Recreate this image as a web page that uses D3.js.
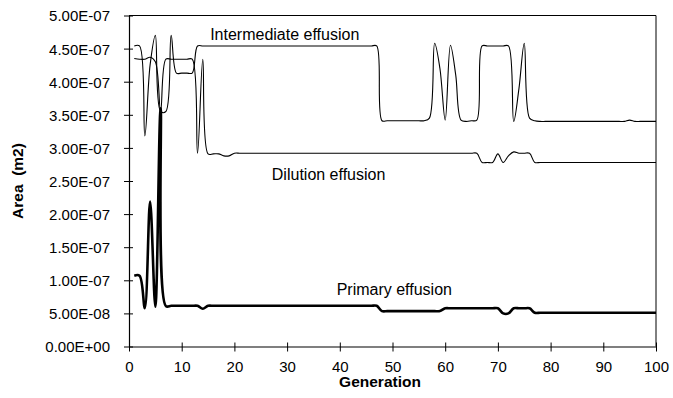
<!DOCTYPE html>
<html>
<head>
<meta charset="utf-8">
<script src="https://cdn.jsdelivr.net/npm/d3@7"></script>
<style>
  body { margin: 0; background: #fff; }
  svg text { font-family: Arial, "Liberation Sans", sans-serif; fill: #000; }
</style>
</head>
<body>
<svg id="chart" width="673" height="398"></svg>
<script>
// values are in units of 1e-7 m2, one per generation (1..100)
const generations = d3.range(1, 101);

const intermediate = [
  4.54, 4.54, 3.18, 4.25, 4.70, 3.55, 3.55, 4.70, 4.13, 4.13,
  4.13, 4.13, 4.54, 4.54, 4.54, 4.54, 4.54, 4.54, 4.54, 4.54,
  4.54, 4.54, 4.54, 4.54, 4.54, 4.54, 4.54, 4.54, 4.54, 4.54,
  4.54, 4.54, 4.54, 4.54, 4.54, 4.54, 4.54, 4.54, 4.54, 4.54,
  4.54, 4.54, 4.54, 4.54, 4.54, 4.54, 4.54, 3.41, 3.41, 3.41,
  3.41, 3.41, 3.41, 3.41, 3.41, 3.41, 3.45, 4.58, 4.20, 3.42,
  4.55, 4.10, 3.42, 3.40, 3.41, 3.42, 4.54, 4.54, 4.54, 4.54,
  4.54, 4.54, 3.40, 3.90, 4.58, 3.45, 3.41, 3.40, 3.40, 3.40,
  3.40, 3.40, 3.40, 3.40, 3.40, 3.40, 3.40, 3.40, 3.40, 3.40,
  3.40, 3.40, 3.40, 3.40, 3.42, 3.40, 3.40, 3.40, 3.40, 3.40
];

const dilution = [
  4.35, 4.34, 4.34, 4.37, 4.30, 3.55, 4.34, 4.34, 4.34, 4.34,
  4.34, 4.34, 2.92, 4.34, 2.91, 2.91, 2.91, 2.88, 2.88, 2.92,
  2.92, 2.92, 2.92, 2.92, 2.92, 2.92, 2.92, 2.92, 2.92, 2.92,
  2.92, 2.92, 2.92, 2.92, 2.92, 2.92, 2.92, 2.92, 2.92, 2.92,
  2.92, 2.92, 2.92, 2.92, 2.92, 2.92, 2.92, 2.92, 2.92, 2.92,
  2.92, 2.92, 2.92, 2.92, 2.92, 2.92, 2.92, 2.92, 2.92, 2.92,
  2.92, 2.92, 2.92, 2.92, 2.92, 2.92, 2.78, 2.78, 2.78, 2.91,
  2.78, 2.88, 2.94, 2.92, 2.92, 2.92, 2.78, 2.78, 2.78, 2.78,
  2.78, 2.78, 2.78, 2.78, 2.78, 2.78, 2.78, 2.78, 2.78, 2.78,
  2.78, 2.78, 2.78, 2.78, 2.78, 2.78, 2.78, 2.78, 2.78, 2.78
];

const primary = [
  1.07, 1.07, 0.58, 2.19, 0.60, 3.60, 0.61, 0.615, 0.615, 0.615,
  0.615, 0.615, 0.615, 0.57, 0.615, 0.615, 0.615, 0.615, 0.615, 0.615,
  0.615, 0.615, 0.615, 0.615, 0.615, 0.615, 0.615, 0.615, 0.615, 0.615,
  0.615, 0.615, 0.615, 0.615, 0.615, 0.615, 0.615, 0.615, 0.615, 0.615,
  0.615, 0.615, 0.615, 0.615, 0.615, 0.615, 0.615, 0.535, 0.535, 0.535,
  0.535, 0.535, 0.535, 0.535, 0.535, 0.535, 0.535, 0.535, 0.535, 0.577,
  0.577, 0.577, 0.577, 0.577, 0.577, 0.577, 0.577, 0.577, 0.577, 0.577,
  0.50, 0.50, 0.577, 0.577, 0.577, 0.577, 0.51, 0.51, 0.51, 0.51,
  0.51, 0.51, 0.51, 0.51, 0.51, 0.51, 0.51, 0.51, 0.51, 0.51,
  0.51, 0.51, 0.51, 0.51, 0.51, 0.51, 0.51, 0.51, 0.51, 0.51
];

const xTicks = d3.range(0, 101, 10);
const yTicks = d3.range(0, 5.01, 0.5);
const UNIT = 1e-7;

// series labels placed in data coordinates
const labels = [
  { text: 'Intermediate effusion', gen: 15.4, val: 4.63 },
  { text: 'Dilution effusion', gen: 27.1, val: 2.515 },
  { text: 'Primary effusion', gen: 39.4, val: 0.78 }
];

const fmtE = v => {
  if (v === 0) return '0.00E+00';
  const [m, e] = (v * UNIT).toExponential(2).split('e');
  const n = +e;
  return m + 'E' + (n < 0 ? '-' : '+') + String(Math.abs(n)).padStart(2, '0');
};

const svg = d3.select('#chart');
const margin = { top: 15.5, right: 17, bottom: 51.5, left: 129 };
const width = +svg.attr('width');
const height = +svg.attr('height');
const innerWidth = width - margin.left - margin.right;
const innerHeight = height - margin.top - margin.bottom;

const xScale = d3.scaleLinear().domain([0, 100]).range([0, innerWidth]);
const yScale = d3.scaleLinear().domain([0, 5]).range([innerHeight, 0]);

const g = svg.append('g').attr('transform', `translate(${margin.left}, ${margin.top})`);

// plot frame (top and right)
g.append('path')
  .attr('d', `M0,0H${innerWidth}V${innerHeight}`)
  .attr('fill', 'none').attr('stroke', '#000').attr('stroke-width', 1);

const yAxis = g.append('g')
  .call(d3.axisLeft(yScale).tickValues(yTicks).tickFormat(fmtE).tickSizeOuter(0).tickPadding(13));
yAxis.selectAll('.tick line').attr('x1', 4).attr('x2', -5);
yAxis.selectAll('text').style('font-size', '15px').attr('dy', '0.36em');

const xAxis = g.append('g').attr('transform', `translate(0, ${innerHeight})`)
  .call(d3.axisBottom(xScale).tickValues(xTicks).tickSizeOuter(0));
xAxis.selectAll('.tick line').attr('y1', -4).attr('y2', 5);
xAxis.selectAll('text').style('font-size', '15px').attr('y', 14.5).attr('dy', '0.71em');

svg.selectAll('.domain').attr('stroke', '#000').attr('stroke-width', 1.2);
svg.selectAll('.tick line').attr('stroke', '#000').attr('stroke-width', 1);

const line = d3.line()
  .x((d, i) => xScale(generations[i]))
  .y(d => yScale(d))
  .curve(d3.curveCatmullRom);

g.append('path').datum(intermediate)
  .attr('fill', 'none').attr('stroke', '#000').attr('stroke-width', 1.1).attr('d', line);
g.append('path').datum(dilution)
  .attr('fill', 'none').attr('stroke', '#000').attr('stroke-width', 1.1).attr('d', line);
g.append('path').datum(primary)
  .attr('fill', 'none').attr('stroke', '#000').attr('stroke-width', 2.6).attr('d', line);

g.selectAll('.series-label').data(labels).enter().append('text')
  .attr('class', 'series-label')
  .attr('x', d => xScale(d.gen))
  .attr('y', d => yScale(d.val))
  .style('font-size', '16px')
  .text(d => d.text);

svg.append('text')
  .attr('x', 380).attr('y', 387)
  .attr('text-anchor', 'middle')
  .style('font-size', '15.5px').style('font-weight', 'bold')
  .text('Generation');

svg.append('text')
  .attr('transform', `translate(23, ${margin.top + innerHeight / 2}) rotate(-90)`)
  .attr('text-anchor', 'middle')
  .style('font-size', '15.5px').style('font-weight', 'bold')
  .attr('xml:space', 'preserve')
  .text('Area  (m2)');
</script>
</body>
</html>
